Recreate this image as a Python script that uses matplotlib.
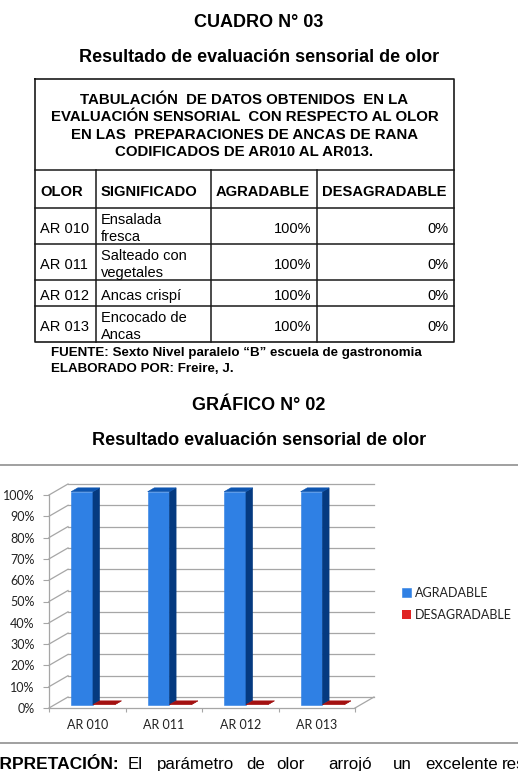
import matplotlib
matplotlib.use("Agg")
import matplotlib.pyplot as plt
from matplotlib.patches import Polygon
from matplotlib.transforms import Affine2D
import numpy as np

# data
codigos = ["AR 010", "AR 011", "AR 012", "AR 013"]
significados = ["Ensalada\nfresca", "Salteado con\nvegetales", "Ancas crispí", "Encocado de\nAncas"]
agradable = [100, 100, 100, 100]
desagradable = [0, 0, 0, 0]
series = ["AGRADABLE", "DESAGRADABLE"]
columnas = ["OLOR", "SIGNIFICADO", "AGRADABLE", "DESAGRADABLE"]
y_ticks = [0, 10, 20, 30, 40, 50, 60, 70, 80, 90, 100]

W, H = 518, 771
DOC = "Liberation Sans"
CHART = "Lato"

fig = plt.figure(figsize=(W / 100, H / 100), dpi=100)

# page layer in pixel coordinates
pg = fig.add_axes([0, 0, 1, 1])
pg.set_xlim(0, W)
pg.set_ylim(H, 0)
pg.axis("off")

def t(x, y, s, size, bold=False, ha="left", fam=DOC, **kw):
    pg.text(x, y, s, fontsize=size, fontweight="bold" if bold else "normal",
            ha=ha, va="baseline", family=fam, color="black", **kw)

t(259, 27, "CUADRO N° 03", 13, True, "center")
t(259, 61.5, "Resultado de evaluación sensorial de olor", 13, True, "center")

# table
lc = "#1a1a1a"
col_x = [35, 96, 211, 317, 454]
row_y = [170, 208, 244, 280, 306, 342]
pg.plot([35, 454, 454, 35, 35], [79, 79, 342, 342, 79], color=lc, lw=1.2)
for y in row_y[:-1]:
    pg.plot([35, 454], [y, y], color=lc, lw=1.1)
for x in col_x[1:-1]:
    pg.plot([x, x], [170, 342], color=lc, lw=1.1)

head = ["TABULACIÓN  DE DATOS OBTENIDOS  EN LA",
        "EVALUACIÓN SENSORIAL  CON RESPECTO AL OLOR",
        "EN LAS  PREPARACIONES DE ANCAS DE RANA",
        "CODIFICADOS DE AR010 AL AR013."]
for i, line in enumerate(head):
    t(244.5, 104 + i * 17.3, line, 10.8, True, "center")

for i, c in enumerate(columnas):
    t(col_x[i] + 5, 195.5, c, 10.6, True)

for i in range(len(codigos)):
    cy = (row_y[i + 1] + row_y[i + 2]) / 2
    t(40, cy + 7, codigos[i], 10.5)
    parts = significados[i].split("\n")
    if len(parts) == 1:
        t(101, cy + 7, parts[0], 10.5)
    else:
        t(101, cy - 1.8, parts[0], 10.5)
        t(101, cy + 14.8, parts[1], 10.5)
    t(311, cy + 7, f"{agradable[i]}%", 10.5, ha="right")
    t(449, cy + 7, f"{desagradable[i]}%", 10.5, ha="right")

t(51, 355.7, "FUENTE: Sexto Nivel paralelo “B” escuela de gastronomia", 9.6, True)
t(51, 371.7, "ELABORADO POR: Freire, J.", 9.6, True)

t(259, 410.5, "GRÁFICO N° 02", 13, True, "center")
t(259, 445, "Resultado evaluación sensorial de olor", 13, True, "center")

pg.plot([0, W], [465, 465], color="#a0a0a0", lw=1.4)
pg.plot([0, W], [743, 743], color="#a0a0a0", lw=1.4)

t(119, 769, "INTERPRETACIÓN:", 12.5, True, "right")
words = ["El", "parámetro", "de", "olor", "arrojó", "un", "excelente", "resultado"]
word_x = [128, 157, 246, 276, 328, 393, 425, 502]
for wx, wd in zip(word_x, words):
    t(wx, 769, wd, 12.2)

# chart (pseudo 3D)
x0p, x1p, y0p, y1p = 49, 355, 708, 495
ax = fig.add_axes([x0p / W, (H - y0p) / H, (x1p - x0p) / W, (y0p - y1p) / H])
ax.patch.set_alpha(0)
n = len(codigos)
DX = 19 / ((x1p - x0p) / n)
DY = 11 / (y0p - y1p)
gc = "#a6a6a6"

for v in y_ticks:
    v = v / 100
    ax.plot([-0.5 + DX, n - 0.5 + DX], [v + DY, v + DY], color=gc, lw=0.9, clip_on=False, zorder=1)
    ax.plot([-0.5, -0.5 + DX], [v, v + DY], color=gc, lw=0.9, clip_on=False, zorder=1)
ax.plot([n - 0.5, n - 0.5 + DX], [0, DY], color=gc, lw=0.9, clip_on=False, zorder=1)

xs = np.arange(n)
bw = 0.285
f0, dep = 0.3, 0.35
shift = Affine2D().translate(f0 * DX, f0 * DY) + ax.transData

styles = [("#2f80e4", "#053a80", "#0d55b0"), ("#e02424", "#8a0c0c", "#a31010")]
vals = [np.array(agradable) / 100, np.array(desagradable) / 100]
offs = [-bw, 0]
conts = []
for k in [1, 0]:
    front, side, top = styles[k]
    b = ax.bar(xs + offs[k], vals[k], bw, align="edge", color=front, ec=front, lw=0.4,
               transform=shift, zorder=3 + k, label=series[k], clip_on=False)
    conts.append(b)
    for r in b:
        a, w, h = r.get_x(), r.get_width(), r.get_height()
        if h == 0:
            r.set_linewidth(0)
        ox, oy = dep * DX, dep * DY
        ax.add_patch(Polygon([(a + w, 0), (a + w, h), (a + w + ox, h + oy), (a + w + ox, oy)],
                             closed=True, fc=side, ec=side, lw=0.4, transform=shift,
                             zorder=3 + k, clip_on=False))
        ax.add_patch(Polygon([(a, h), (a + w, h), (a + w + ox, h + oy), (a + ox, h + oy)],
                             closed=True, fc=top, ec=top, lw=0.4, transform=shift,
                             zorder=3 + k, clip_on=False))

ax.set_xlim(-0.5, n - 0.5)
ax.set_ylim(0, 1)
for s in ["top", "right"]:
    ax.spines[s].set_visible(False)
for s in ["left", "bottom"]:
    ax.spines[s].set_color(gc)
    ax.spines[s].set_linewidth(0.9)

ax.set_yticks([v / 100 for v in y_ticks])
ax.set_yticklabels([f"{v}%" for v in y_ticks], family=CHART, fontsize=9, color="#222222")
ax.tick_params(axis="y", length=4, width=0.8, color=gc, pad=6.5)
ax.set_xticks(xs)
ax.set_xticklabels(codigos, family=CHART, fontsize=9, color="#222222")
ax.set_xticks(np.arange(-0.5, n, 1), minor=True)
ax.tick_params(axis="x", which="major", length=0, pad=8)
ax.tick_params(axis="x", which="minor", length=3, width=0.8, color=gc)

leg = ax.legend([conts[1], conts[0]], series, loc="center left",
                bbox_to_anchor=(402 / W, 1 - 604 / H), bbox_transform=fig.transFigure,
                frameon=False, prop={"family": CHART, "size": 9},
                handlelength=0.72, handleheight=0.72, handletextpad=0.35,
                labelspacing=0.85, borderpad=0, borderaxespad=0)
for tx in leg.get_texts():
    tx.set_color("#222222")

fig.savefig("out.png", dpi=100)
